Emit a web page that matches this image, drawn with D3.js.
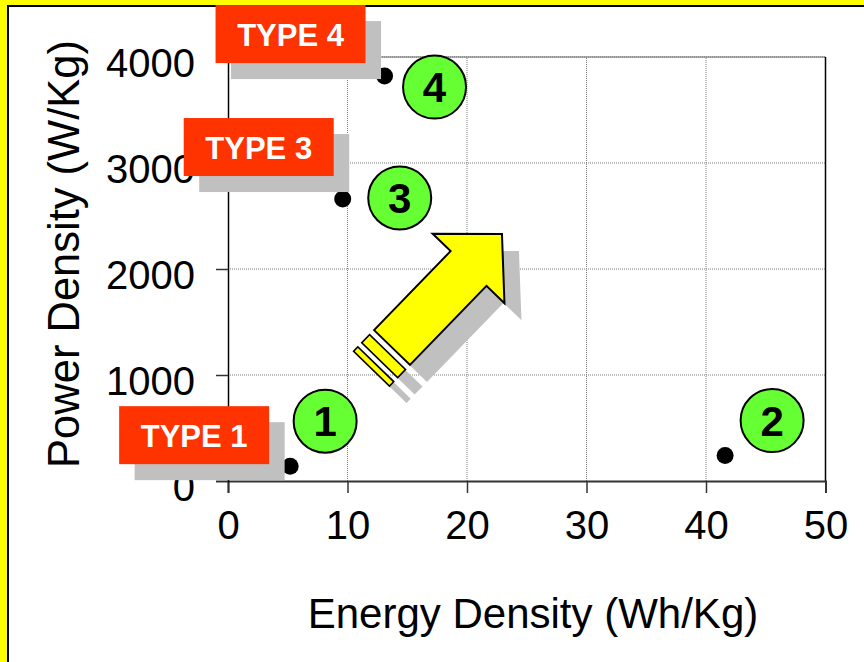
<!DOCTYPE html>
<html>
<head>
<meta charset="utf-8">
<script src="https://cdn.jsdelivr.net/npm/d3@7/dist/d3.min.js"></script>
<style>
  html, body { margin: 0; padding: 0; background: #ffff00; }
  svg { display: block; }
</style>
</head>
<body>
<svg id="chart" width="864" height="662"></svg>
<script>
// ---- data ----
const types = ["TYPE 1", "TYPE 2", "TYPE 3", "TYPE 4"];
const numbers = ["1", "2", "3", "4"];
const energyDensity = [5.2, 41.6, 9.6, 13.1];      // Wh/Kg
const powerDensity = [140, 240, 2660, 3820];       // W/Kg
const showTypeLabel = [true, false, true, true];
const xTicks = [0, 10, 20, 30, 40, 50];
const yTicks = [0, 1000, 2000, 3000, 4000];
const xTitle = "Energy Density (Wh/Kg)";
const yTitle = "Power Density (W/Kg)";

// ---- layout (annotation offsets, px relative to the point) ----
const badgeOffset = [[35, -45], [47, -35], [57, -1], [50, 11]];
const labelOffset = [[-96, -31], null, [-84, -52], [-94, -42]];

const svg = d3.select("#chart");
const FONT = "'Liberation Sans', Arial, Helvetica, sans-serif";

// panel
svg.append("rect").attr("x", 8).attr("y", 6).attr("width", 900).attr("height", 700)
  .attr("fill", "#fff").attr("stroke", "#000").attr("stroke-width", 2);

const x = d3.scaleLinear().domain([0, 50]).range([228, 825.5]);
const y = d3.scaleLinear().domain([0, 4000]).range([481, 57]);

// gridlines
const grid = svg.append("g");
grid.selectAll("line.vx").data(xTicks.filter(d => d > 0 && d < 50)).join("line")
  .attr("x1", d => x(d)).attr("x2", d => x(d)).attr("y1", y(0)).attr("y2", y(4000))
  .attr("stroke", "#7a7a7a").attr("stroke-width", 1).attr("stroke-dasharray", "1,1");
grid.selectAll("line.hy").data(yTicks.filter(d => d > 0)).join("line")
  .attr("x1", x(0)).attr("x2", x(50)).attr("y1", d => y(d)).attr("y2", d => y(d))
  .attr("stroke", "#7a7a7a").attr("stroke-width", 1).attr("stroke-dasharray", "1,1");

// frame top & right
svg.append("line").attr("x1", x(0)).attr("x2", x(50)).attr("y1", y(4000)).attr("y2", y(4000))
  .attr("stroke", "#666").attr("stroke-width", 1);
svg.append("line").attr("x1", x(50)).attr("x2", x(50)).attr("y1", y(4000)).attr("y2", y(0))
  .attr("stroke", "#000").attr("stroke-width", 1.5);

// axes
const xAxis = d3.axisBottom(x).tickValues(xTicks).tickSize(12).tickPadding(42).tickFormat(d3.format("d"));
const gx = svg.append("g").attr("transform", `translate(0,${y(0)})`).call(xAxis);
gx.select(".domain").attr("stroke", "#333").attr("stroke-width", 2);
gx.selectAll(".tick line").attr("stroke", "#333").attr("stroke-width", 1.5);
gx.selectAll(".tick text").attr("font-family", FONT).attr("font-size", 40).attr("fill", "#000").attr("dy", "0.1em");

const yAxis = d3.axisLeft(y).tickValues(yTicks).tickSize(12).tickPadding(21).tickFormat(d3.format("d"));
const gy = svg.append("g").attr("transform", `translate(${x(0)},0)`).call(yAxis);
gy.select(".domain").attr("stroke", "#000").attr("stroke-width", 1.5);
gy.selectAll(".tick line").attr("stroke", "#333").attr("stroke-width", 1.5);
gy.selectAll(".tick text").attr("font-family", FONT).attr("font-size", 40).attr("fill", "#000").attr("dy", "0.48em");

// titles
svg.append("text").attr("x", 533).attr("y", 628).attr("text-anchor", "middle")
  .attr("font-family", FONT).attr("font-size", 42).attr("fill", "#000").text(xTitle);
svg.append("text").attr("transform", "translate(79,254) rotate(-90)").attr("text-anchor", "middle")
  .attr("font-family", FONT).attr("font-size", 43.5).attr("fill", "#000").text(yTitle);

// arrow (annotation), local coordinates along its axis
const arrowBody = [[0, -25], [110, -25], [110, -50], [158, 0], [110, 50], [110, 25], [0, 25]];
const stripes = [[-17.7, -6.4], [-29.4, -23.3]];
function drawArrow(g, fill, stroke) {
  g.append("polygon").attr("points", arrowBody.map(p => p.join(",")).join(" "))
    .attr("fill", fill).attr("stroke", stroke).attr("stroke-width", stroke === "none" ? 0 : 2)
    .attr("stroke-linejoin", "miter");
  g.selectAll("rect.s").data(stripes).join("rect")
    .attr("x", d => d[0]).attr("width", d => d[1] - d[0]).attr("y", -25).attr("height", 50)
    .attr("fill", fill).attr("stroke", stroke).attr("stroke-width", stroke === "none" ? 0 : 1.6);
}
drawArrow(svg.append("g").attr("transform", "translate(409,364.5) rotate(-45.9)"), "#c0c0c0", "none");
drawArrow(svg.append("g").attr("transform", "translate(392,347.5) rotate(-45.9)"), "#ffff00", "#000");

// points
const pts = types.map((t, i) => ({ t, n: numbers[i], e: energyDensity[i], p: powerDensity[i], i }));
svg.selectAll("circle.dot").data(pts).join("circle")
  .attr("cx", d => x(d.e)).attr("cy", d => y(d.p)).attr("r", 8.5).attr("fill", "#000");

// number badges
const badges = svg.selectAll("g.badge").data(pts).join("g")
  .attr("transform", d => `translate(${x(d.e) + badgeOffset[d.i][0]},${y(d.p) + badgeOffset[d.i][1]})`);
badges.append("circle").attr("r", 31.5).attr("fill", "#66ff33").attr("stroke", "#000").attr("stroke-width", 2);
badges.append("text").attr("text-anchor", "middle").attr("y", 15)
  .attr("font-family", FONT).attr("font-weight", "bold").attr("font-size", 42).attr("fill", "#000")
  .text(d => d.n);

// type labels
const lbl = svg.selectAll("g.lbl").data(pts.filter(d => showTypeLabel[d.i])).join("g")
  .attr("transform", d => `translate(${x(d.e) + labelOffset[d.i][0]},${y(d.p) + labelOffset[d.i][1]})`);
lbl.append("rect").attr("x", -75 + 15.5).attr("y", -29 + 16).attr("width", 150).attr("height", 58).attr("fill", "#c0c0c0");
lbl.append("rect").attr("x", -75).attr("y", -29).attr("width", 150).attr("height", 58).attr("fill", "#ff3300");
lbl.append("text").attr("text-anchor", "middle").attr("y", 12)
  .attr("font-family", FONT).attr("font-weight", "bold").attr("font-size", 31).attr("fill", "#fff")
  .text(d => d.t);
</script>
</body>
</html>
